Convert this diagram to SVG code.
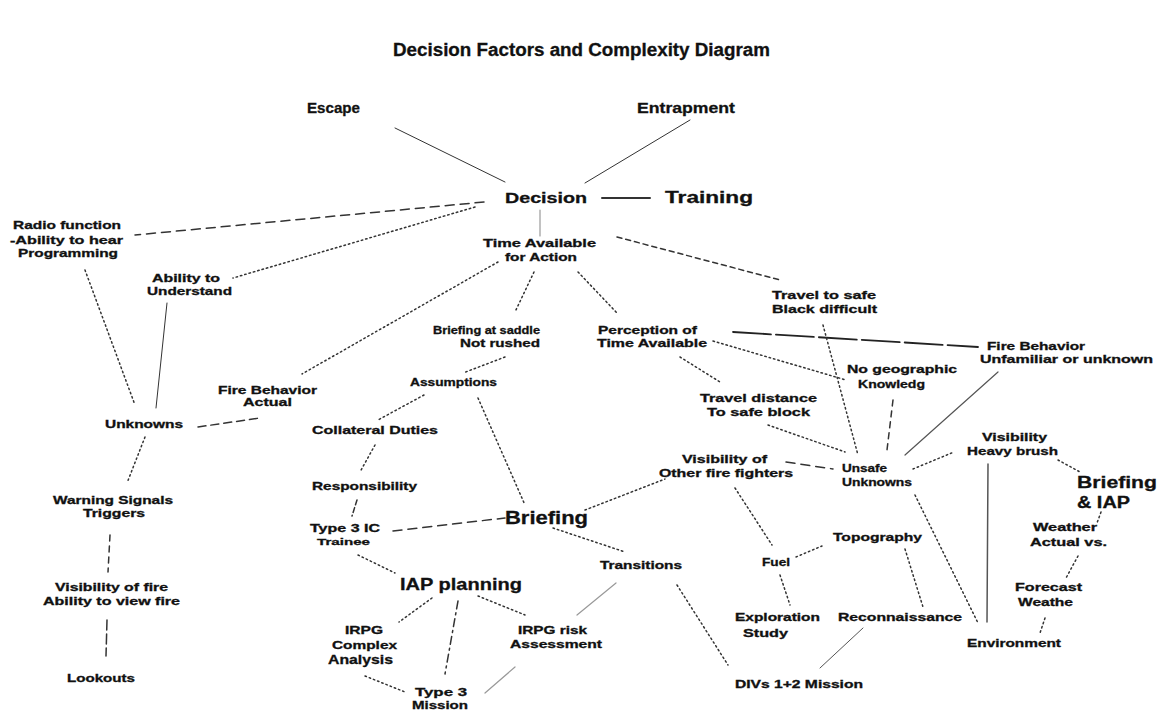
<svg xmlns="http://www.w3.org/2000/svg" width="1159" height="713" viewBox="0 0 1159 713">
<style>
text{font-family:"Liberation Sans",Arial,sans-serif;font-weight:700;fill:#111;stroke:#111;stroke-width:0.3}
.t{font-size:10.5px}
.m{font-size:15px}
.b{font-size:17px}
line{fill:none;stroke-linecap:round}
.s{stroke:#333;stroke-width:1}
.g{stroke:#999;stroke-width:1.2}
.d{stroke:#333;stroke-width:1.5;stroke-dasharray:1.5 3}
.dl{stroke:#333;stroke-width:1.5;stroke-dasharray:9 6}
.dd{stroke:#333;stroke-width:1.5;stroke-dasharray:8 4 2 4}
.so{stroke:#222;stroke-width:1.8;stroke-dasharray:38 5}
</style>
<rect width="1159" height="713" fill="#fff"/>
<text x="393" y="56" font-size="18" textLength="377" lengthAdjust="spacingAndGlyphs">Decision Factors and Complexity Diagram</text>
<g id="connectors">
<line class="s" x1="395" y1="128" x2="505" y2="182"/>
<line class="s" x1="690" y1="120" x2="585" y2="183"/>
<line class="s" x1="602" y1="198" x2="650" y2="198" style="stroke-width:2"/>
<line class="dl" x1="484" y1="202" x2="135" y2="235"/>
<line class="d" x1="475" y1="207" x2="233" y2="278"/>
<line class="g" x1="540" y1="210" x2="540" y2="236"/>
<line class="dl" x1="617" y1="237" x2="780" y2="280" style="stroke-dasharray:5 4"/>
<line class="d" x1="498" y1="262" x2="302" y2="374"/>
<line class="d" x1="534" y1="272" x2="515" y2="312"/>
<line class="d" x1="578" y1="272" x2="617" y2="313"/>
<line class="d" x1="85" y1="270" x2="135" y2="405"/>
<line class="s" x1="167" y1="303" x2="156" y2="408"/>
<line class="dl" x1="198" y1="427" x2="260" y2="418" style="stroke-dasharray:8 5"/>
<line class="d" x1="145" y1="437" x2="127" y2="483"/>
<line class="dl" x1="110" y1="535" x2="108" y2="572" style="stroke-dasharray:6 5"/>
<line class="dl" x1="107" y1="620" x2="106" y2="656" style="stroke-dasharray:10 4"/>
<line class="d" x1="505" y1="357" x2="463" y2="373"/>
<line class="d" x1="424" y1="395" x2="378" y2="420"/>
<line class="d" x1="478" y1="398" x2="525" y2="505"/>
<line class="d" x1="375" y1="445" x2="360" y2="472"/>
<line class="dl" x1="357" y1="500" x2="352" y2="516" style="stroke-dasharray:5 3"/>
<line class="dl" x1="393" y1="531" x2="505" y2="518"/>
<line class="d" x1="585" y1="510" x2="665" y2="479"/>
<line class="d" x1="553" y1="528" x2="625" y2="552"/>
<line class="d" x1="358" y1="555" x2="395" y2="573"/>
<line class="so" x1="733" y1="332" x2="978" y2="347"/>
<line class="d" x1="713" y1="341" x2="846" y2="380"/>
<line class="d" x1="680" y1="357" x2="720" y2="382"/>
<line class="d" x1="823" y1="325" x2="858" y2="455"/>
<line class="dl" x1="893" y1="400" x2="887" y2="450" style="stroke-dasharray:6 5"/>
<line class="g" x1="998" y1="372" x2="905" y2="455" style="stroke:#555"/>
<line class="d" x1="768" y1="425" x2="845" y2="452"/>
<line class="dl" x1="786" y1="462" x2="833" y2="469"/>
<line class="d" x1="913" y1="469" x2="954" y2="452"/>
<line class="d" x1="915" y1="495" x2="978" y2="623"/>
<line class="d" x1="1058" y1="460" x2="1080" y2="472"/>
<line class="s" x1="988" y1="464" x2="987" y2="622" style="stroke:#555;stroke-width:1.5"/>
<line class="d" x1="1101" y1="512" x2="1097" y2="523"/>
<line class="d" x1="1078" y1="556" x2="1066" y2="578"/>
<line class="d" x1="1045" y1="618" x2="1040" y2="633"/>
<line class="d" x1="735" y1="488" x2="772" y2="545"/>
<line class="d" x1="796" y1="557" x2="822" y2="546"/>
<line class="d" x1="905" y1="549" x2="923" y2="607"/>
<line class="d" x1="780" y1="575" x2="790" y2="605"/>
<line class="s" x1="863" y1="628" x2="820" y2="668" style="stroke:#555"/>
<line class="d" x1="677" y1="585" x2="728" y2="665"/>
<line class="g" x1="616" y1="583" x2="577" y2="615"/>
<line class="d" x1="432" y1="598" x2="399" y2="622"/>
<line class="dd" x1="458" y1="601" x2="445" y2="674"/>
<line class="d" x1="478" y1="596" x2="525" y2="615"/>
<line class="d" x1="365" y1="676" x2="405" y2="692"/>
<line class="g" x1="515" y1="667" x2="485" y2="693"/>
</g>
<g id="escape"><text class="m" x="307" y="113" textLength="53" lengthAdjust="spacingAndGlyphs">Escape</text></g>
<g id="entrapment"><text class="m" x="637" y="113" textLength="98" lengthAdjust="spacingAndGlyphs">Entrapment</text></g>
<g id="decision"><text x="505" y="203" font-size="14" textLength="82" lengthAdjust="spacingAndGlyphs">Decision</text></g>
<g id="training"><text x="665" y="203" font-size="16" textLength="88" lengthAdjust="spacingAndGlyphs">Training</text></g>
<g id="radio">
<text class="t" x="13" y="229" textLength="108" lengthAdjust="spacingAndGlyphs">Radio function</text>
<text class="t" x="10" y="244" textLength="113" lengthAdjust="spacingAndGlyphs">-Ability to hear</text>
<text class="t" x="18" y="257" textLength="100" lengthAdjust="spacingAndGlyphs">Programming</text>
</g>
<g id="ability">
<text class="t" x="152" y="282" textLength="68" lengthAdjust="spacingAndGlyphs">Ability to</text>
<text class="t" x="147" y="295" textLength="85" lengthAdjust="spacingAndGlyphs">Understand</text>
</g>
<g id="time-available">
<text class="t" x="483" y="247" textLength="113" lengthAdjust="spacingAndGlyphs">Time Available</text>
<text class="t" x="505" y="261" textLength="72" lengthAdjust="spacingAndGlyphs">for Action</text>
</g>
<g id="travel-safe">
<text class="t" x="772" y="299" textLength="104" lengthAdjust="spacingAndGlyphs">Travel to safe</text>
<text class="t" x="772" y="313" textLength="105" lengthAdjust="spacingAndGlyphs">Black difficult</text>
</g>
<g id="fire-unfamiliar">
<text class="t" x="987" y="350" textLength="98" lengthAdjust="spacingAndGlyphs">Fire Behavior</text>
<text class="t" x="980" y="363" textLength="173" lengthAdjust="spacingAndGlyphs">Unfamiliar or unknown</text>
</g>
<g id="no-geo">
<text class="t" x="847" y="373" textLength="110" lengthAdjust="spacingAndGlyphs">No geographic</text>
<text class="t" x="858" y="388" textLength="67" lengthAdjust="spacingAndGlyphs">Knowledg</text>
</g>
<g id="briefing-saddle">
<text class="t" x="433" y="334" textLength="107" lengthAdjust="spacingAndGlyphs">Briefing at saddle</text>
<text class="t" x="460" y="347" textLength="80" lengthAdjust="spacingAndGlyphs">Not rushed</text>
</g>
<g id="perception">
<text class="t" x="598" y="334" textLength="99" lengthAdjust="spacingAndGlyphs">Perception of</text>
<text class="t" x="597" y="347" textLength="110" lengthAdjust="spacingAndGlyphs">Time Available</text>
</g>
<g id="travel-distance">
<text class="t" x="700" y="402" textLength="117" lengthAdjust="spacingAndGlyphs">Travel distance</text>
<text class="t" x="707" y="416" textLength="103" lengthAdjust="spacingAndGlyphs">To safe block</text>
</g>
<g id="assumptions"><text class="t" x="410" y="386" textLength="87" lengthAdjust="spacingAndGlyphs">Assumptions</text></g>
<g id="fire-actual">
<text class="t" x="218" y="394" textLength="99" lengthAdjust="spacingAndGlyphs">Fire Behavior</text>
<text class="t" x="243" y="406" textLength="49" lengthAdjust="spacingAndGlyphs">Actual</text>
</g>
<g id="collateral"><text class="t" x="312" y="434" textLength="126" lengthAdjust="spacingAndGlyphs">Collateral Duties</text></g>
<g id="unknowns"><text class="t" x="105" y="428" textLength="78" lengthAdjust="spacingAndGlyphs">Unknowns</text></g>
<g id="warning">
<text class="t" x="53" y="504" textLength="120" lengthAdjust="spacingAndGlyphs">Warning Signals</text>
<text class="t" x="83" y="517" textLength="62" lengthAdjust="spacingAndGlyphs">Triggers</text>
</g>
<g id="visibility-fire">
<text class="t" x="55" y="591" textLength="113" lengthAdjust="spacingAndGlyphs">Visibility of fire</text>
<text class="t" x="43" y="605" textLength="137" lengthAdjust="spacingAndGlyphs">Ability to view fire</text>
</g>
<g id="lookouts"><text class="t" x="67" y="682" textLength="68" lengthAdjust="spacingAndGlyphs">Lookouts</text></g>
<g id="responsibility"><text class="t" x="312" y="490" textLength="105" lengthAdjust="spacingAndGlyphs">Responsibility</text></g>
<g id="type3ic">
<text class="t" x="310" y="532" textLength="70" lengthAdjust="spacingAndGlyphs">Type 3 IC</text>
<text x="317" y="545" font-size="9.5" textLength="53" lengthAdjust="spacingAndGlyphs">Trainee</text>
</g>
<g id="briefing"><text x="505" y="524" font-size="18" textLength="83" lengthAdjust="spacingAndGlyphs">Briefing</text></g>
<g id="transitions"><text class="t" x="600" y="569" textLength="82" lengthAdjust="spacingAndGlyphs">Transitions</text></g>
<g id="iap-planning"><text class="b" x="400" y="590" textLength="122" lengthAdjust="spacingAndGlyphs">IAP planning</text></g>
<g id="irpg-complex">
<text class="t" x="345" y="634" textLength="38" lengthAdjust="spacingAndGlyphs">IRPG</text>
<text class="t" x="332" y="649" textLength="65" lengthAdjust="spacingAndGlyphs">Complex</text>
<text x="328" y="664" font-size="12" textLength="65" lengthAdjust="spacingAndGlyphs">Analysis</text>
</g>
<g id="irpg-risk">
<text class="t" x="518" y="634" textLength="69" lengthAdjust="spacingAndGlyphs">IRPG risk</text>
<text class="t" x="510" y="648" textLength="92" lengthAdjust="spacingAndGlyphs">Assessment</text>
</g>
<g id="type3-mission">
<text class="t" x="415" y="696" textLength="52" lengthAdjust="spacingAndGlyphs">Type 3</text>
<text class="t" x="412" y="709" textLength="56" lengthAdjust="spacingAndGlyphs">Mission</text>
</g>
<g id="visibility-other">
<text class="t" x="682" y="463" textLength="85" lengthAdjust="spacingAndGlyphs">Visibility of</text>
<text class="t" x="659" y="477" textLength="134" lengthAdjust="spacingAndGlyphs">Other fire fighters</text>
</g>
<g id="unsafe">
<text class="t" x="842" y="472" textLength="45" lengthAdjust="spacingAndGlyphs">Unsafe</text>
<text class="t" x="842" y="486" textLength="70" lengthAdjust="spacingAndGlyphs">Unknowns</text>
</g>
<g id="topography"><text class="t" x="833" y="541" textLength="89" lengthAdjust="spacingAndGlyphs">Topography</text></g>
<g id="fuel"><text class="t" x="762" y="566" textLength="28" lengthAdjust="spacingAndGlyphs">Fuel</text></g>
<g id="visibility-brush">
<text class="t" x="982" y="441" textLength="65" lengthAdjust="spacingAndGlyphs">Visibility</text>
<text class="t" x="967" y="455" textLength="91" lengthAdjust="spacingAndGlyphs">Heavy brush</text>
</g>
<g id="briefing-iap">
<text x="1077" y="488" font-size="16" textLength="80" lengthAdjust="spacingAndGlyphs">Briefing</text>
<text x="1077" y="508" font-size="16" textLength="53" lengthAdjust="spacingAndGlyphs">&amp; IAP</text>
</g>
<g id="weather">
<text class="t" x="1033" y="531" textLength="64" lengthAdjust="spacingAndGlyphs">Weather</text>
<text class="t" x="1030" y="546" textLength="77" lengthAdjust="spacingAndGlyphs">Actual vs.</text>
</g>
<g id="forecast">
<text class="t" x="1015" y="591" textLength="67" lengthAdjust="spacingAndGlyphs">Forecast</text>
<text class="t" x="1018" y="606" textLength="55" lengthAdjust="spacingAndGlyphs">Weathe</text>
</g>
<g id="exploration">
<text class="t" x="735" y="621" textLength="85" lengthAdjust="spacingAndGlyphs">Exploration</text>
<text class="t" x="743" y="637" textLength="45" lengthAdjust="spacingAndGlyphs">Study</text>
</g>
<g id="reconnaissance"><text class="t" x="838" y="621" textLength="124" lengthAdjust="spacingAndGlyphs">Reconnaissance</text></g>
<g id="environment"><text class="t" x="967" y="647" textLength="94" lengthAdjust="spacingAndGlyphs">Environment</text></g>
<g id="divs"><text class="t" x="735" y="688" textLength="128" lengthAdjust="spacingAndGlyphs">DIVs 1+2 Mission</text></g>
</svg>
